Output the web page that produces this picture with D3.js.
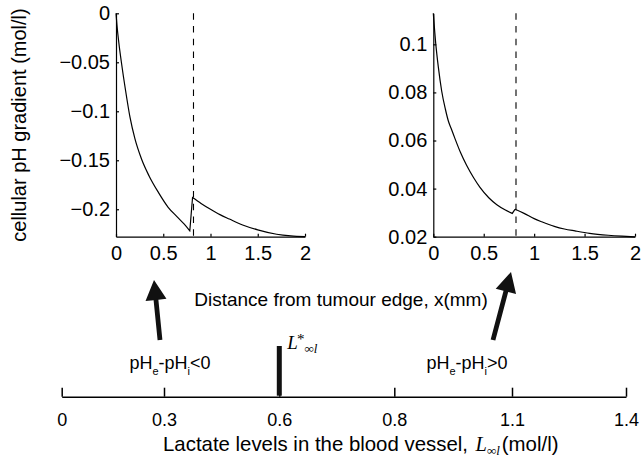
<!DOCTYPE html>
<html>
<head>
<meta charset="utf-8">
<script src="https://cdnjs.cloudflare.com/ajax/libs/d3/7.8.5/d3.min.js"></script>
<style>
  body { margin: 0; background: #fff; }
  svg { display: block; font-family: "Liberation Sans", Arial, Helvetica, sans-serif; }
</style>
</head>
<body>
<div id="chart"></div>
<script>
    // distance axis shared by both panels
    const xTicks = [0, 0.5, 1, 1.5, 2];
    const boundary = 0.82;

    // left panel: lactate below the threshold (before / after the jump)
    const leftYTicks = [0, -0.05, -0.1, -0.15, -0.2];
    const leftX = [0, 0.01, 0.03, 0.06, 0.1, 0.148, 0.2, 0.271, 0.35, 0.45, 0.552, 0.65, 0.72, 0.781,
                   0.81, 0.9, 1.0, 1.1, 1.2, 1.34, 1.5, 1.7, 1.85, 2.0];
    const leftY = [0, -0.012, -0.03, -0.052, -0.078, -0.106, -0.128, -0.149, -0.166, -0.183, -0.198, -0.208, -0.215, -0.222,
                   -0.188, -0.194, -0.2, -0.2055, -0.21, -0.216, -0.221, -0.2255, -0.2272, -0.228];

    // right panel: lactate above the threshold
    const rightYTicks = [0.02, 0.04, 0.06, 0.08, 0.1];
    const rightX = [0, 0.024, 0.05, 0.083, 0.12, 0.15, 0.182, 0.215, 0.27, 0.33, 0.4, 0.463, 0.55, 0.63, 0.71, 0.783,
                    0.81, 0.9, 1.0, 1.075, 1.2, 1.3, 1.405, 1.55, 1.735, 1.87, 2.0];
    const rightY = [0.1129, 0.1004, 0.0905, 0.0806, 0.073, 0.068, 0.0645, 0.0608, 0.055, 0.0497, 0.0445, 0.0405, 0.0362, 0.0333, 0.0312, 0.0297,
                    0.0314, 0.0297, 0.0275, 0.0262, 0.0243, 0.0232, 0.0224, 0.0214, 0.0206, 0.0202, 0.0199];

    // bottom number line
    const lactateTicks = [0, 0.3, 0.6, 0.8, 1.1, 1.4];
    const lactateCritical = 0.6;

    const width = 642, height = 459;
    const svg = d3.select("#chart").append("svg")
        .attr("width", width)
        .attr("height", height);

    const plotTop = 13.3, plotBottom = 236.7;

    const panels = [
        { xs: leftX, ys: leftY, yTicks: leftYTicks, yDomain: [-0.228, 0], x0: 116, x1: 305 },
        { xs: rightX, ys: rightY, yTicks: rightYTicks, yDomain: [0.02, 0.1129], x0: 433.3, x1: 635 }
    ];

    panels.forEach(p => {
        const x = d3.scaleLinear().domain([0, 2]).range([p.x0, p.x1]);
        const y = d3.scaleLinear().domain(p.yDomain).range([plotBottom, plotTop]);

        const xAxis = svg.append("g")
            .attr("transform", `translate(0,${plotBottom})`)
            .call(d3.axisBottom(x).tickValues(xTicks).tickFormat(d3.format("~g"))
                .tickSizeInner(-3).tickSizeOuter(0).tickPadding(9));

        const yAxis = svg.append("g")
            .attr("transform", `translate(${p.x0},0)`)
            .call(d3.axisLeft(y).tickValues(p.yTicks).tickFormat(d3.format("~g"))
                .tickSizeInner(-3).tickSizeOuter(0).tickPadding(6));

        [xAxis, yAxis].forEach(g => {
            g.attr("font-family", null).attr("font-size", null);
            g.selectAll("text").attr("font-size", 20).attr("fill", "#000");
            g.selectAll("path, line").attr("stroke", "#000").attr("stroke-width", 1.2);
        });

        svg.append("line")
            .attr("x1", x(boundary)).attr("x2", x(boundary))
            .attr("y1", plotTop).attr("y2", plotBottom)
            .attr("stroke", "#000")
            .attr("stroke-width", 1.1)
            .attr("stroke-dasharray", "6.5,6.2");

        // smooth pieces either side of the jump, straight segment across it
        const pts = p.xs.map((v, i) => [x(v), y(p.ys[i])]);
        const jump = p.xs.findIndex(v => v > 0.8);
        const smooth = d3.line().curve(d3.curveMonotoneX);
        const before = pts.slice(0, jump), after = pts.slice(jump);

        svg.append("path")
            .attr("d", smooth(before) + "L" + after[0] + smooth(after).replace(/^M/, "L"))
            .attr("fill", "none")
            .attr("stroke", "#000")
            .attr("stroke-width", 1.2)
            .attr("stroke-linejoin", "miter");
    });

    svg.append("text")
        .attr("transform", "translate(26,125) rotate(-90)")
        .attr("text-anchor", "middle")
        .attr("font-size", 20)
        .text("cellular pH gradient (mol/l)");

    svg.append("text")
        .attr("x", 341)
        .attr("y", 306)
        .attr("text-anchor", "middle")
        .attr("font-size", 19)
        .text("Distance from tumour edge, x(mm)");

    // arrows from the number line up to the panels
    function arrow(x1, y1, x2, y2) {
        const dx = x2 - x1, dy = y2 - y1, len = Math.hypot(dx, dy);
        const ux = dx / len, uy = dy / len, px = -uy, py = ux;
        const headLen = 20, headW = 10.5, shaftW = 2.4;
        const bx = x2 - ux * headLen, by = y2 - uy * headLen;
        const pts = [
            [x1 + px * shaftW, y1 + py * shaftW],
            [bx + px * shaftW, by + py * shaftW],
            [bx + px * headW, by + py * headW],
            [x2, y2],
            [bx - px * headW, by - py * headW],
            [bx - px * shaftW, by - py * shaftW],
            [x1 - px * shaftW, y1 - py * shaftW]
        ];
        svg.append("path").attr("d", "M" + pts.join("L") + "Z").attr("fill", "#111");
    }
    arrow(160, 340, 154, 280);
    arrow(493, 340, 511, 272);

    // number line of lactate levels
    const lineY = 396.7;
    const lx = d3.scaleLinear()
        .domain(lactateTicks)
        .range([61.7, 164, 279.3, 394.3, 512, 626]);

    const lAxis = svg.append("g")
        .attr("transform", `translate(0,${lineY})`)
        .call(d3.axisBottom(lx).tickValues(lactateTicks).tickFormat(d3.format("~g"))
            .tickSizeInner(-9).tickSizeOuter(0).tickPadding(17));
    lAxis.attr("font-family", null).attr("font-size", null);
    lAxis.selectAll("text").attr("font-size", 18).attr("fill", "#000");
    lAxis.selectAll("path, line").attr("stroke", "#000").attr("stroke-width", 1.5);

    svg.append("line")
        .attr("x1", lx(lactateCritical)).attr("x2", lx(lactateCritical))
        .attr("y1", lineY - 1).attr("y2", 346)
        .attr("stroke", "#111")
        .attr("stroke-width", 5);

    // L*_{∞l} marker label, one text with super/subscripts
    const serif = "'Liberation Serif', 'DejaVu Serif', serif";
    const star = svg.append("text")
        .attr("x", lx(lactateCritical) + 8).attr("y", 349)
        .attr("font-family", serif).attr("font-style", "italic").attr("font-size", 19);
    star.append("tspan").text("L");
    star.append("tspan").attr("font-style", "normal").attr("font-size", 15).attr("dx", -1).attr("dy", -5).text("*");
    star.append("tspan").attr("font-size", 13).attr("dx", 0).attr("dy", 9).text("∞l");

    // region labels
    function phLabel(cx, sign) {
        const t = svg.append("text")
            .attr("x", cx).attr("y", 369)
            .attr("text-anchor", "middle")
            .attr("font-size", 18);
        t.append("tspan").text("pH");
        t.append("tspan").attr("font-size", 11).attr("dy", 6).text("e");
        t.append("tspan").attr("dy", -6).text("-pH");
        t.append("tspan").attr("font-size", 11).attr("dy", 6).text("i");
        t.append("tspan").attr("dy", -6).text(sign + "0");
    }
    phLabel(170, "<");
    phLabel(467, ">");

    const lab = svg.append("text")
        .attr("x", 163).attr("y", 451)
        .attr("font-size", 20.4);
    lab.append("tspan").text("Lactate levels in the blood vessel, ");
    lab.append("tspan").attr("font-family", serif).attr("font-style", "italic").attr("dx", 2).text("L");
    lab.append("tspan").attr("font-family", serif).attr("font-style", "italic")
        .attr("font-size", 13).attr("dy", 4).text("∞l");
    lab.append("tspan").attr("dy", -4).attr("dx", 2).text("(mol/l)");
</script>
</body>
</html>
